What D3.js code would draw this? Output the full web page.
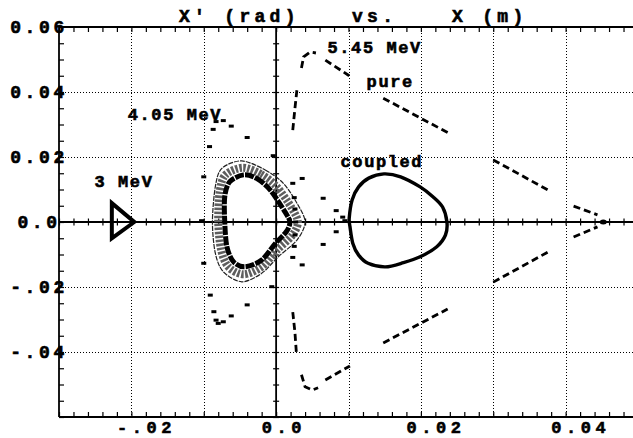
<!DOCTYPE html>
<html><head><meta charset="utf-8">
<script src="https://cdn.jsdelivr.net/npm/d3@7"></script>
<style>
body{margin:0;background:#fff}
svg{display:block}
text{font-family:"Liberation Mono","DejaVu Sans Mono",monospace;font-weight:bold;fill:#000;stroke:#000;stroke-width:0.6px}
</style>
</head><body>
<svg id="c" width="633" height="438"></svg>
<script>
// ---------- data ----------
const xDomain = [-0.03, 0.05];
const yDomain = [-0.06, 0.06];
const xGrid = [-0.02, -0.01, 0.01, 0.02, 0.03, 0.04];
const yGrid = [-0.04, -0.02, 0.02, 0.04];
const xLabelValues = [-0.02, 0, 0.02, 0.04];
const xLabelTexts = ["-.02", "0.0", "0.02", "0.04"];
const yLabelValues = [0.06, 0.04, 0.02, 0, -0.02, -0.04];
const yLabelTexts = ["0.06", "0.04", "0.02", "0.0", "-.02", "-.04"];
const titleParts = ["X\u2032 (rad)", "vs.", "X (m)"];

// 3 MeV orbit (triangle)
const orbit3X = [-0.0227, -0.0196, -0.0227];
const orbit3Y = [0.0058, 0.0, -0.0050];

// 4.05 MeV: banded island structure
const band405Outer = [[-0.00475,0.0188],[-0.0015,0.0160],[0.0010,0.0119],[0.0029,0.0057],[0.0040,0.0],[0.0029,-0.0055],[0.0003,-0.0107],[-0.0020,-0.0158],[-0.00475,-0.0184],[-0.0073,-0.0153],[-0.0084,-0.0096],[-0.0088,0.0],[-0.0084,0.0109],[-0.0075,0.0165]];
const band405Mid = [[-0.0046,0.0167],[-0.0021,0.0147],[0.0001,0.0108],[0.0021,0.0045],[0.0030,0.0],[0.0022,-0.0042],[0.0001,-0.0087],[-0.0020,-0.0138],[-0.0045,-0.0161],[-0.0066,-0.0138],[-0.0076,-0.0086],[-0.0080,0.0],[-0.0078,0.0094],[-0.0070,0.0145]];
const band405Inner = [[-0.0045,0.0145],[-0.0027,0.0134],[-0.0008,0.0098],[0.0012,0.0032],[0.0019,0.0],[0.0014,-0.0030],[-0.0001,-0.0066],[-0.0020,-0.0117],[-0.0043,-0.0138],[-0.0059,-0.0122],[-0.0068,-0.0076],[-0.0071,0.0],[-0.0071,0.0078],[-0.0064,0.0124]];
// 4.05 MeV scattered turns
const scatter405 = [[-0.0083,0.0309],[-0.0073,0.0312],[-0.0062,0.0295],[-0.0087,0.0285],[-0.0040,0.0260],[-0.0092,0.0232],[-0.0004,0.0204],[-0.0100,0.0139],[-0.0103,0.0004],[-0.0100,-0.0127],[-0.0006,-0.0199],
 [-0.0091,-0.0225],[-0.0086,-0.0276],[-0.0040,-0.0255],[-0.0083,-0.0302],[-0.0080,-0.0312],[-0.0073,-0.0307],[-0.0062,-0.0289],
 [0.0023,0.0119],[0.0025,0.0075],[0.0026,0.0040],[0.0027,0.0],[0.0026,-0.0040],[0.0025,-0.0075],[0.0023,-0.0109],
 [0.0036,0.0134],[0.0036,-0.0132],[0.0065,0.0073],[0.0083,0.0035],[0.0092,0.0015],[0.0095,0.0004],[0.0083,-0.0030],[0.0065,-0.0069]];

// 5.45 MeV "pure" orbit branches
const pureBranches = [
 [[0.0023,0.0283],[0.0026,0.0350],[0.0029,0.0412]],
 [[0.0035,0.0474],[0.0038,0.0508],[0.0047,0.0523],[0.0055,0.0520]],
 [[0.0068,0.0498],[0.0101,0.0450]],
 [[0.0148,0.0381],[0.0238,0.0274]],
 [[0.0300,0.0191],[0.0376,0.0098]],
 [[0.0411,0.0049],[0.0444,0.0022]],
 [[0.0411,-0.0046],[0.0444,-0.0015]],
 [[0.0300,-0.0185],[0.0376,-0.0092]],
 [[0.0148,-0.0372],[0.0237,-0.0268]],
 [[0.0068,-0.0486],[0.0102,-0.0443]],
 [[0.0035,-0.0470],[0.0040,-0.0507],[0.0050,-0.0517],[0.0058,-0.0510]],
 [[0.0023,-0.0277],[0.0026,-0.0340],[0.0028,-0.0403]]
];
const pureTip = [0.0452, 0.0];

// 5.45 MeV "coupled" orbit
const coupledX = [0.0101,0.0105,0.0114,0.0128,0.0149,0.0172,0.0199,0.0217,0.0230,0.0236,0.0234,0.0222,0.0199,0.0176,0.0151,0.0127,0.0114,0.0106,0.0102];
const coupledY = [0.0012,0.0068,0.0108,0.0135,0.0148,0.0139,0.0108,0.0077,0.0046,0.0000,-0.0040,-0.0076,-0.0107,-0.0125,-0.0138,-0.0127,-0.0102,-0.0066,-0.0014];

const annotations = [
 {t:"4.05 MeV", x:-0.0205, y:0.0315},
 {t:"3 MeV", x:-0.0251, y:0.0108},
 {t:"5.45 MeV", x:0.0071, y:0.0520},
 {t:"pure", x:0.0125, y:0.0415},
 {t:"coupled", x:0.0089, y:0.0170}
];

// ---------- drawing ----------
const svg = d3.select("#c");
const W = 633, H = 438;
const x = d3.scaleLinear().domain(xDomain).range([59, 638]);
const y = d3.scaleLinear().domain(yDomain).range([417, 27]);

// grid
const grid = svg.append("g").attr("stroke","#000").attr("stroke-width",1).attr("stroke-dasharray","1,2");
grid.selectAll("line.gx").data(xGrid).join("line")
  .attr("x1",d=>Math.round(x(d))+0.5).attr("x2",d=>Math.round(x(d))+0.5).attr("y1",27).attr("y2",417);
grid.selectAll("line.gy").data(yGrid).join("line")
  .attr("y1",d=>Math.round(y(d))+0.5).attr("y2",d=>Math.round(y(d))+0.5).attr("x1",59).attr("x2",W);

const minorX = d3.range(-0.030, 0.0501, 0.002).map(v=>+v.toFixed(4));
const minorY = d3.range(-0.060, 0.0601, 0.005).map(v=>+v.toFixed(4));

function styleAxis(g){ g.select(".domain").remove(); g.selectAll("line").attr("stroke","#000").attr("stroke-width",1.2); }

// frame ticks
svg.append("g").attr("transform","translate(0,417)")
  .call(d3.axisBottom(x).tickValues(minorX).tickSize(-5).tickFormat("")).call(styleAxis);
svg.append("g").attr("transform","translate(0,27)")
  .call(d3.axisTop(x).tickValues(minorX).tickSize(-5).tickFormat("")).call(styleAxis);
svg.append("g").attr("transform","translate(59,0)")
  .call(d3.axisLeft(y).tickValues(minorY).tickSize(-5).tickFormat("")).call(styleAxis);

// center axes ticks
svg.append("g").attr("transform",`translate(0,${y(0)-3.5})`)
  .call(d3.axisBottom(x).tickValues(minorX).tickSize(7).tickFormat("")).call(styleAxis);
svg.append("g").attr("transform",`translate(${x(0)-3},0)`)
  .call(d3.axisRight(y).tickValues(minorY).tickSize(6).tickFormat("")).call(styleAxis);

// axis lines and frame
const fr = svg.append("g").attr("stroke","#000").attr("fill","none");
fr.append("line").attr("x1",59).attr("x2",W).attr("y1",y(0)).attr("y2",y(0)).attr("stroke-width",1.8);
fr.append("line").attr("x1",x(0)).attr("x2",x(0)).attr("y1",27).attr("y2",417).attr("stroke-width",1.8);
fr.append("line").attr("x1",59).attr("x2",W).attr("y1",27).attr("y2",27).attr("stroke-width",1.8);
fr.append("line").attr("x1",59).attr("x2",W).attr("y1",417).attr("y2",417).attr("stroke-width",1.8);
fr.append("line").attr("x1",59).attr("x2",59).attr("y1",27).attr("y2",417).attr("stroke-width",1.8);

// tick labels
const xl = svg.append("g").attr("transform","translate(0,417)")
  .call(d3.axisBottom(x).tickValues(xLabelValues).tickSize(0).tickFormat((d,i)=>xLabelTexts[i]));
xl.select(".domain").remove();
xl.selectAll("text").attr("font-size",17).attr("letter-spacing",4.6).attr("text-anchor","start")
  .attr("x",-15).attr("y",16).attr("dy",0).attr("fill","#000")
  .style("font-family",'"Liberation Mono",monospace').style("font-weight","bold");

const yl = svg.append("g").attr("transform","translate(59,0)")
  .call(d3.axisLeft(y).tickValues(yLabelValues).tickSize(0).tickFormat((d,i)=>yLabelTexts[i]));
yl.select(".domain").remove();
yl.selectAll("text").attr("font-size",18).attr("letter-spacing",3.6).attr("text-anchor","middle")
  .attr("x",-20).attr("dy","0.33em").attr("fill","#000")
  .style("font-family",'"Liberation Mono",monospace').style("font-weight","bold");

// title
const titleX = [179, 352, 452];
svg.selectAll("text.title").data(titleParts).join("text").attr("class","title")
  .attr("x",(d,i)=>titleX[i]).attr("y",22).attr("font-size",18).attr("letter-spacing",4.3).text(d=>d);

// 4.05 MeV banded structure
const loop = d3.line().x(d=>x(d[0])).y(d=>y(d[1])).curve(d3.curveCardinalClosed.tension(0.1));
svg.append("path").attr("d",loop(band405Mid)).attr("fill","none").attr("stroke","#5e5e5e")
  .attr("stroke-width",8).attr("stroke-dasharray","2.5,1.5");
svg.append("path").attr("d",loop(band405Outer)).attr("fill","none").attr("stroke","#222")
  .attr("stroke-width",1.2).attr("stroke-dasharray","5,1");
svg.append("path").attr("d",loop(band405Inner)).attr("fill","none").attr("stroke","#000")
  .attr("stroke-width",5).attr("stroke-dasharray","9,1.2");
svg.append("g").selectAll("rect").data(scatter405).join("rect")
  .attr("x",d=>x(d[0])-2.5).attr("y",d=>y(d[1])-1.5).attr("width",5).attr("height",3).attr("fill","#000");

// 3 MeV triangle
const tri = d3.line().x(d=>x(d[0])).y(d=>y(d[1])).curve(d3.curveLinearClosed);
svg.append("path").attr("d",tri(orbit3X.map((v,i)=>[v,orbit3Y[i]]))).attr("fill","none")
  .attr("stroke","#000").attr("stroke-width",4).attr("stroke-linejoin","miter");

// pure 5.45 MeV
const segL = d3.line().x(d=>x(d[0])).y(d=>y(d[1]));
svg.append("g").selectAll("path").data(pureBranches).join("path")
  .attr("d",d=>segL(d)).attr("fill","none").attr("stroke","#000").attr("stroke-width",2.8)
  .attr("stroke-dasharray","7,4");
svg.append("ellipse").attr("cx",x(pureTip[0])).attr("cy",y(pureTip[1])).attr("rx",3.5).attr("ry",2.5).attr("fill","#000");

// coupled
svg.append("path").attr("d",loop(coupledX.map((v,i)=>[v,coupledY[i]]))).attr("fill","none")
  .attr("stroke","#000").attr("stroke-width",3.4);

// annotations
svg.selectAll("text.ann").data(annotations).join("text").attr("class","ann")
  .attr("x",d=>x(d.x)).attr("y",d=>y(d.y)).attr("font-size",17).attr("letter-spacing",1.6).text(d=>d.t);
</script>
</body></html>
